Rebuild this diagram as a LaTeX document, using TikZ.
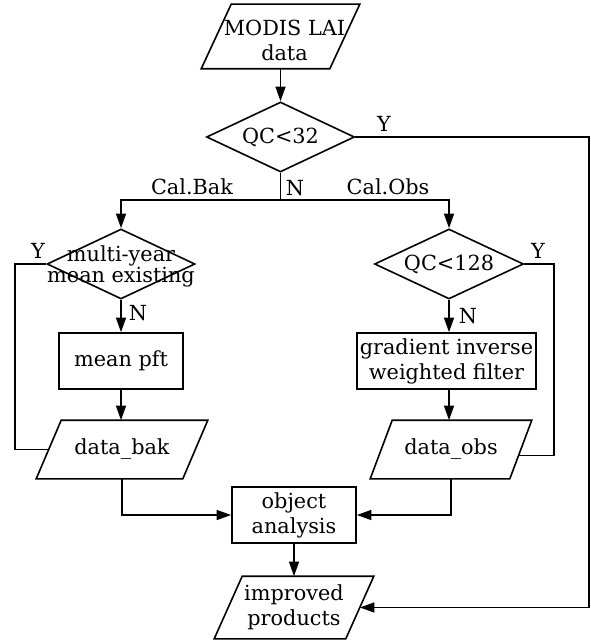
\documentclass[tikz,border=0pt]{standalone}
\usepackage{fontspec}
\setmainfont{DejaVu Serif}
\usetikzlibrary{shapes.geometric,arrows.meta,calc}
\newcommand\drawpara[2]{%
  \draw (#1.south west) -- ($(#1.south east)-(#2,0)$) -- (#1.north east)
    -- ($(#1.north west)+(#2,0)$) -- cycle;}
\begin{document}
\begin{tikzpicture}[x=0.75pt,y=-0.75pt,
  line width=1.2pt,
  txt/.style={font=\fontsize{15.6}{18.75}\selectfont, align=center, inner sep=0pt},
  para/.style={rectangle, inner sep=0pt},
  box/.style={draw, rectangle, inner sep=0pt},
  dia/.style={draw, diamond, inner sep=0pt},
  arr/.style={-{Triangle[length=11pt,width=7.5pt]}},
  lab/.style={txt}]
\useasboundingbox (0,0) rectangle (590,641);

% nodes
\node[para, minimum width=157*0.75pt, minimum height=63*0.75pt,
  label={[txt, shift={(4,4)}]center:MODIS LAI\\data}] (in) at (280.5,36.5) {};
\drawpara{in}{30}
\node[dia, minimum width=148*0.75pt, minimum height=70*0.75pt,
  label={[txt]center:QC<32}] (d1) at (280.5,137) {};
\node[dia, minimum width=148*0.75pt, minimum height=70*0.75pt,
  label={[txt, font=\fontsize{15.6}{15.75}\selectfont, shift={(0,2)}]center:multi-year\\mean existing}] (d2) at (121,264) {};
\node[dia, minimum width=149*0.75pt, minimum height=70*0.75pt,
  label={[txt]center:QC<128}] (d3) at (449,264) {};
\node[box, minimum width=124*0.75pt, minimum height=56*0.75pt,
  label={[txt]center:mean pft}] (mp) at (121,361) {};
\node[box, minimum width=179*0.75pt, minimum height=56*0.75pt,
  label={[txt]center:gradient inverse\\weighted filter}] (gr) at (446.5,361) {};
\node[para, minimum width=170*0.75pt, minimum height=57*0.75pt,
  label={[txt]center:data\_bak}] (bak) at (122,449.5) {};
\drawpara{bak}{25}
\node[para, minimum width=160*0.75pt, minimum height=57*0.75pt,
  label={[txt]center:data\_obs}] (obs) at (451,449.5) {};
\drawpara{obs}{22}
\node[box, minimum width=124*0.75pt, minimum height=56*0.75pt,
  label={[txt]center:object\\analysis}] (obj) at (294,515) {};
\node[para, minimum width=158*0.75pt, minimum height=61*0.75pt,
  label={[txt]center:improved\\products}] (out) at (294,607.5) {};
\drawpara{out}{28}

% helper coordinates
\coordinate (sp) at (280.5,200);
\coordinate (r1) at (589,137);
\coordinate (l2) at (15,264);
\coordinate (r3) at (554,264);

% connectors
\draw[arr] (in.south) -- (d1.north);
\draw (d1.south) -- (sp);
\draw[arr] (sp) -| (d2.north);
\draw[arr] (sp) -| (d3.north);
\draw[arr] (d1.east) -- (r1) |- ($(out.east)-(14,0)$);

\draw (d2.west) -- (l2) |- ($(bak.west)+(12.5,0)$);
\draw[arr] (d2.south) -- (mp.north);
\draw[arr] (mp.south) -- (mp.south |- bak.north);

\draw ($(obs.north east)!0.6!($(obs.south east)-(22,0)$)$) -| (r3) -- (d3.east);
\draw[arr] (d3.south) -- (d3.south |- gr.north);
\draw[arr] (d3.south |- gr.south) -- (d3.south |- obs.north);

\draw[arr] (bak.south) |- (obj.west);
\draw[arr] (obs.south) |- (obj.east);
\draw[arr] (obj.south) -- (out.north);

% labels
\node[lab] (ly1) at (384,124) {Y};
\node[lab] (ln1) at (295,188) {N};
\node[lab] (lcb) at (192,187) {Cal.Bak};
\node[lab] (lco) at (388,187) {Cal.Obs};
\node[lab] (ly2) at (38,251) {Y};
\node[lab] (ly3) at (538,251) {Y};
\node[lab] (ln2) at (138,313) {N};
\node[lab] (ln3) at (468,316) {N};
\end{tikzpicture}
\end{document}
